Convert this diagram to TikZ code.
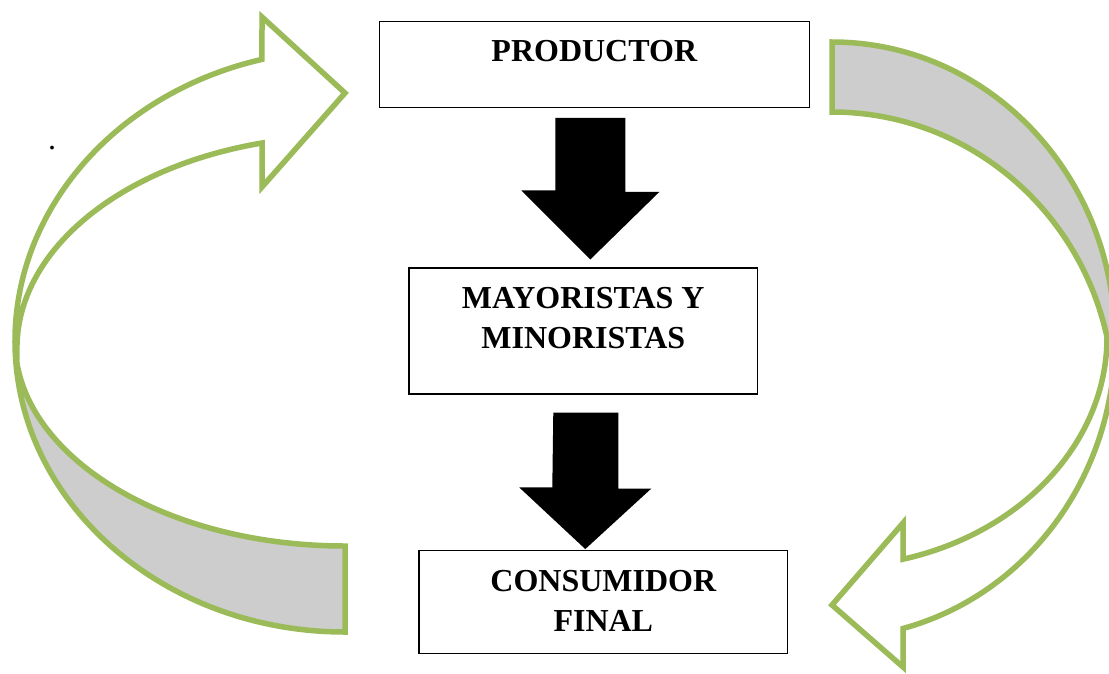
\documentclass[tikz,border=0pt]{standalone}
\usepackage{fontspec}
\setmainfont{Liberation Serif}
\usetikzlibrary{positioning,calc}
\definecolor{verdeoliva}{HTML}{9BBB59}
\definecolor{grisbanda}{HTML}{CDCDCD}
\begin{document}
\begin{tikzpicture}[x=1pt, y=-1pt,
        caja/.style={draw, line width=1.1pt, inner sep=0pt},
        rotulo/.style={font=\fontsize{32}{40}\selectfont\bfseries, align=center, inner sep=0pt},
        curva/.style={draw=verdeoliva, line width=5.5pt, line join=miter},
        bloque/.style={fill=black}]
        \useasboundingbox (0,0) rectangle (1109,673);
        \filldraw[curva, fill=grisbanda] (15,341) arc[start angle=180, end angle=270, x radius=330pt, y radius=291pt] -- (345,546) arc[start angle=270, end angle=180, x radius=330pt, y radius=205pt] -- cycle;
        \filldraw[curva, fill=white] (15,341) arc[start angle=180, end angle=104.57, x radius=330pt, y radius=291pt] -- (262,17) -- (345,93) -- (262,187) -- (262,143) arc[start angle=104.65, end angle=180, x radius=328pt, y radius=212pt] -- cycle;
        \filldraw[curva, fill=grisbanda] (832,42) arc[start angle=90, end angle=0, x radius=283pt, y radius=298pt] -- (1107,337) arc[start angle=12.64, end angle=90, x radius=281.8pt, y radius=288pt] -- cycle;
        \filldraw[curva, fill=white] (1115,340) arc[start angle=0, end angle=-75.47, x radius=283pt, y radius=298pt] -- (903,667) -- (832,605) -- (903,523) -- (903,559.2) arc[start angle=-75.04, end angle=0, x radius=275pt, y radius=230pt] -- cycle;
        \node[font=\fontsize{32}{40}\selectfont, inner sep=0pt, anchor=base west] (punto) at (48,149) {.};
        \node[caja, minimum width=430pt, minimum height=86pt] (prod) at (594.3,64.4) {};
        \node[caja, minimum width=348.7pt, minimum height=126pt] (mayor) at (583.3,331) {};
        \node[caja, minimum width=368.7pt, minimum height=102.6pt] (cons) at (603.3,601.9) {};
        \node[rotulo, below=19.5pt of prod.north] (prodtxt) {PRODUCTOR};
        \node[rotulo, below=20pt of mayor.north] (mayortxt) {MAYORISTAS Y\\MINORISTAS};
        \node[rotulo, below=20.4pt of cons.north] (constxt) {CONSUMIDOR\\FINAL};
        \fill[bloque] ($(prod.south)+(-39,10)$) -- ++(70,0) -- ++(0,74) -- ++(34,0) -- ($(mayor.north)+(7,-8)$) -- ++(-69,-69) -- ++(34,0) -- cycle;
        \fill[bloque] ($(mayor.south)+(-30,18)$) -- ++(65,0) -- ++(0,76) -- ++(33,0) -- ($(cons.north)+(-18,-1)$) -- ++(-66,-61.6) -- ++(33,0) -- cycle;
    \end{tikzpicture}
\end{document}
